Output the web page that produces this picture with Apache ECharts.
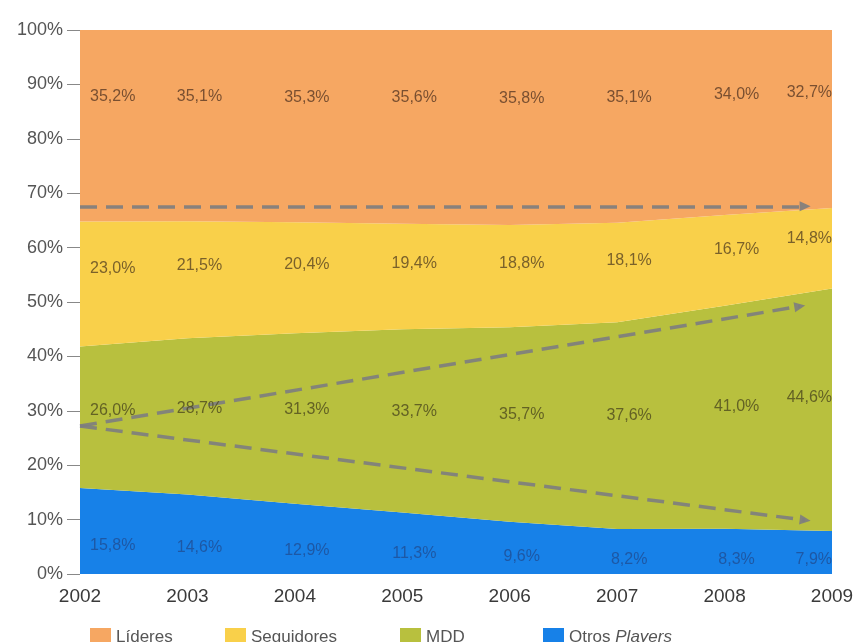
<!DOCTYPE html>
<html>
<head>
<meta charset="utf-8">
<script src="https://cdn.jsdelivr.net/npm/echarts@6/dist/echarts.min.js"></script>
<style>html,body{margin:0;padding:0;background:#fff}#c{width:859px;height:642px}</style>
</head>
<body>
<div id="c"></div>
<script>
// ---- data ----
const years = ['2002','2003','2004','2005','2006','2007','2008','2009'];
const otros = [15.8, 14.6, 12.9, 11.3, 9.6, 8.2, 8.3, 7.9];
const mdd = [26.0, 28.7, 31.3, 33.7, 35.7, 37.6, 41.0, 44.6];
const seguidores = [23.0, 21.5, 20.4, 19.4, 18.8, 18.1, 16.7, 14.8];
const lideres = [35.2, 35.1, 35.3, 35.6, 35.8, 35.1, 34.0, 32.7];
const yTicks = [0, 10, 20, 30, 40, 50, 60, 70, 80, 90, 100];
// trend arrows (annotation): [startYear, startPct, endYear, endPct]
const trendFlat = [2002, 67.6, 2008.75, 67.6];
const trendUp = [2002, 27.2, 2008.7, 49.2];
const trendDown = [2002, 27.2, 2008.75, 9.9];

// ---- styles ----
const FONT = 'Liberation Sans, Arial, sans-serif';
const seriesDefs = [
  {name: 'Otros Players', values: otros, color: '#1781e8', labelColor: '#1f4e93', frac: 0.33},
  {name: 'MDD', values: mdd, color: '#b8c03e', labelColor: '#4d4a1e', frac: 0.55},
  {name: 'Seguidores', values: seguidores, color: '#f9d04a', labelColor: '#5a4522', frac: 0.62},
  {name: 'Líderes', values: lideres, color: '#f6a762', labelColor: '#5a3a24', frac: 0.65}
];

// 100% stacking: each year's shares scaled to sum to 100
const totals = years.map((_, i) => seriesDefs.reduce((s, d) => s + d.values[i], 0));

const series = [];
const base = years.map(() => 0);
seriesDefs.forEach(d => {
  const share = d.values.map((v, i) => v * 100 / totals[i]);
  series.push({
    name: d.name, type: 'line', stack: 'total', symbol: 'none',
    lineStyle: {width: 0}, areaStyle: {color: d.color, opacity: 1},
    itemStyle: {color: d.color}, data: share, z: 1
  });
  const n = years.length - 1;
  const lbl = share.map((v, i) => ({
    value: [i, base[i] + v * d.frac],
    label: {
      align: i === 0 ? 'left' : (i === n ? 'right' : 'center'),
      offset: i === 0 ? [10, 0] : (i === n ? [0, 0] : [12, 0])
    }
  }));
  series.push({
    name: d.name + '_lbl', type: 'scatter', symbolSize: 0, silent: true, z: 5,
    data: lbl,
    label: {
      show: true, position: 'inside', color: d.labelColor, fontSize: 16, fontFamily: FONT,
      formatter: p => d.values[p.dataIndex].toFixed(1).replace('.', ',') + '%'
    }
  });
  share.forEach((v, i) => base[i] += v);
});

const dash = {color: 'rgba(125,125,128,0.9)', width: 3.5, type: [17, 9]};
const trendLines = [trendFlat, trendUp, trendDown].map(t => [
  {coord: [t[0], t[1]]}, {coord: [t[2], t[3]]}
]);
series.push({
  type: 'line', xAxisIndex: 1, data: [], silent: true, z: 4,
  markLine: {
    silent: true, symbol: ['none', 'triangle'], symbolSize: [10, 11],
    lineStyle: dash, label: {show: false}, data: trendLines
  }
});

const legendNames = ['Líderes', 'Seguidores', 'MDD', 'Otros Players'];
const legendLeft = [85, 220, 395, 538];
const legends = legendNames.map((n, i) => ({
  data: [n], left: legendLeft[i], top: 623, itemWidth: 21, itemHeight: 19, icon: 'rect',
  selectedMode: false, itemGap: 0,
  textStyle: {color: '#555', fontSize: 17, fontFamily: FONT,
    rich: {n: {color: '#555', fontSize: 17, fontFamily: FONT}, i: {color: '#555', fontSize: 17, fontStyle: 'italic', fontFamily: FONT}}},
  formatter: name => name === 'Otros Players' ? '{n|Otros }{i|Players}' : name
}));

const chart = echarts.init(document.getElementById('c'), null, {renderer: 'canvas'});
chart.setOption({
  animation: false,
  backgroundColor: '#fff',
  grid: {left: 80, right: 27, top: 30, bottom: 68},
  legend: legends,
  xAxis: [
    {type: 'category', data: years, boundaryGap: false,
     axisLine: {show: false}, axisTick: {show: false},
     axisLabel: {color: '#3a3a3a', fontSize: 19, fontFamily: FONT, margin: 13}},
    {type: 'value', min: 2002, max: 2009, show: false}
  ],
  yAxis: {type: 'value', min: yTicks[0], max: yTicks[yTicks.length - 1], interval: 10,
    axisLine: {show: false}, splitLine: {show: false},
    axisTick: {show: true, length: 13, inside: false, lineStyle: {color: '#888', width: 1}},
    axisLabel: {color: '#555', fontSize: 18, fontFamily: FONT, margin: 17, formatter: '{value}%'}},
  series: series
});
</script>
</body>
</html>
